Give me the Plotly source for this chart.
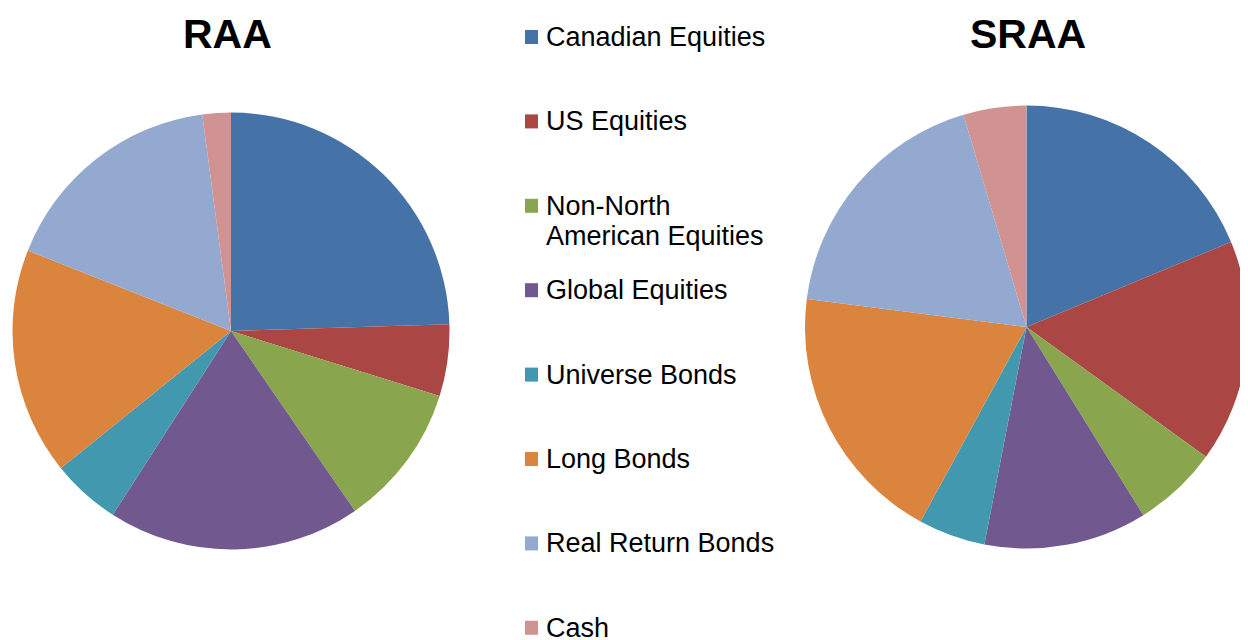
import plotly.graph_objects as go

categories = ["Canadian Equities", "US Equities", "Non-North American Equities",
              "Global Equities", "Universe Bonds", "Long Bonds",
              "Real Return Bonds", "Cash"]
legend_lines = [["Canadian Equities"], ["US Equities"], ["Non-North", "American Equities"],
                ["Global Equities"], ["Universe Bonds"], ["Long Bonds"],
                ["Real Return Bonds"], ["Cash"]]
raa_values = [24.5, 5.3, 10.6, 18.7, 5.1, 16.8, 16.9, 2.1]
sraa_values = [18.75, 16.25, 6.2, 11.9, 4.9, 19.1, 18.4, 4.6]
colors = ["#4572A7", "#AA4643", "#89A54E", "#71588F",
          "#4198AF", "#DB843D", "#93A9CF", "#D19392"]

OFF = 8  # page body margin
W, H = 1248 - OFF, 640 - OFF
FONT = "Arial, Liberation Sans, sans-serif"

def px(x):
    return (x - OFF) / W

def py(y):
    return 1 - (y - OFF) / H

def dom(cx, cy, r):
    return dict(x=[max(0, px(cx - r)), min(1, px(cx + r))],
                y=[py(cy + r), py(cy - r)])

fig = go.Figure()
for name, vals, (cx, cy, r) in [("RAA", raa_values, (231, 331, 218.5)),
                                ("SRAA", sraa_values, (1026.5, 327, 221.5))]:
    fig.add_trace(go.Pie(
        labels=categories, values=vals, name=name,
        marker=dict(colors=colors, line=dict(width=0)),
        sort=False, direction="clockwise", rotation=0,
        textinfo="none", showlegend=False,
        domain=dom(cx, cy, r),
    ))

annotations = [
    dict(text="<b>RAA</b>", x=px(227), y=py(34)),
    dict(text="<b>SRAA</b>", x=px(1028), y=py(34)),
]
for a in annotations:
    a.update(xref="paper", yref="paper", showarrow=False, xanchor="center",
             yanchor="middle", font=dict(family=FONT, size=41, color="#000000"))

shapes = []
y0 = 37
step = 84.4
for i, (lines, col) in enumerate(zip(legend_lines, colors)):
    yc = y0 + i * step
    shapes.append(dict(type="rect", xref="paper", yref="paper",
                       x0=px(525), x1=px(538),
                       y0=py(yc + 7), y1=py(yc - 7),
                       fillcolor=col, line=dict(width=0)))
    for j, ln in enumerate(lines):
        annotations.append(dict(
            text=ln, xref="paper", yref="paper", x=px(544),
            y=py(yc + j * 30), xanchor="left", yanchor="middle",
            showarrow=False, font=dict(family=FONT, size=27, color="#000000")))

fig.update_layout(
    width=W, height=H, margin=dict(l=0, r=0, t=0, b=0),
    paper_bgcolor="white", plot_bgcolor="white",
    annotations=annotations, shapes=shapes,
)
fig.write_html(
    "out.html",
    post_script="document.documentElement.style.overflow='hidden';"
                "document.body.style.overflow='hidden';",
)
